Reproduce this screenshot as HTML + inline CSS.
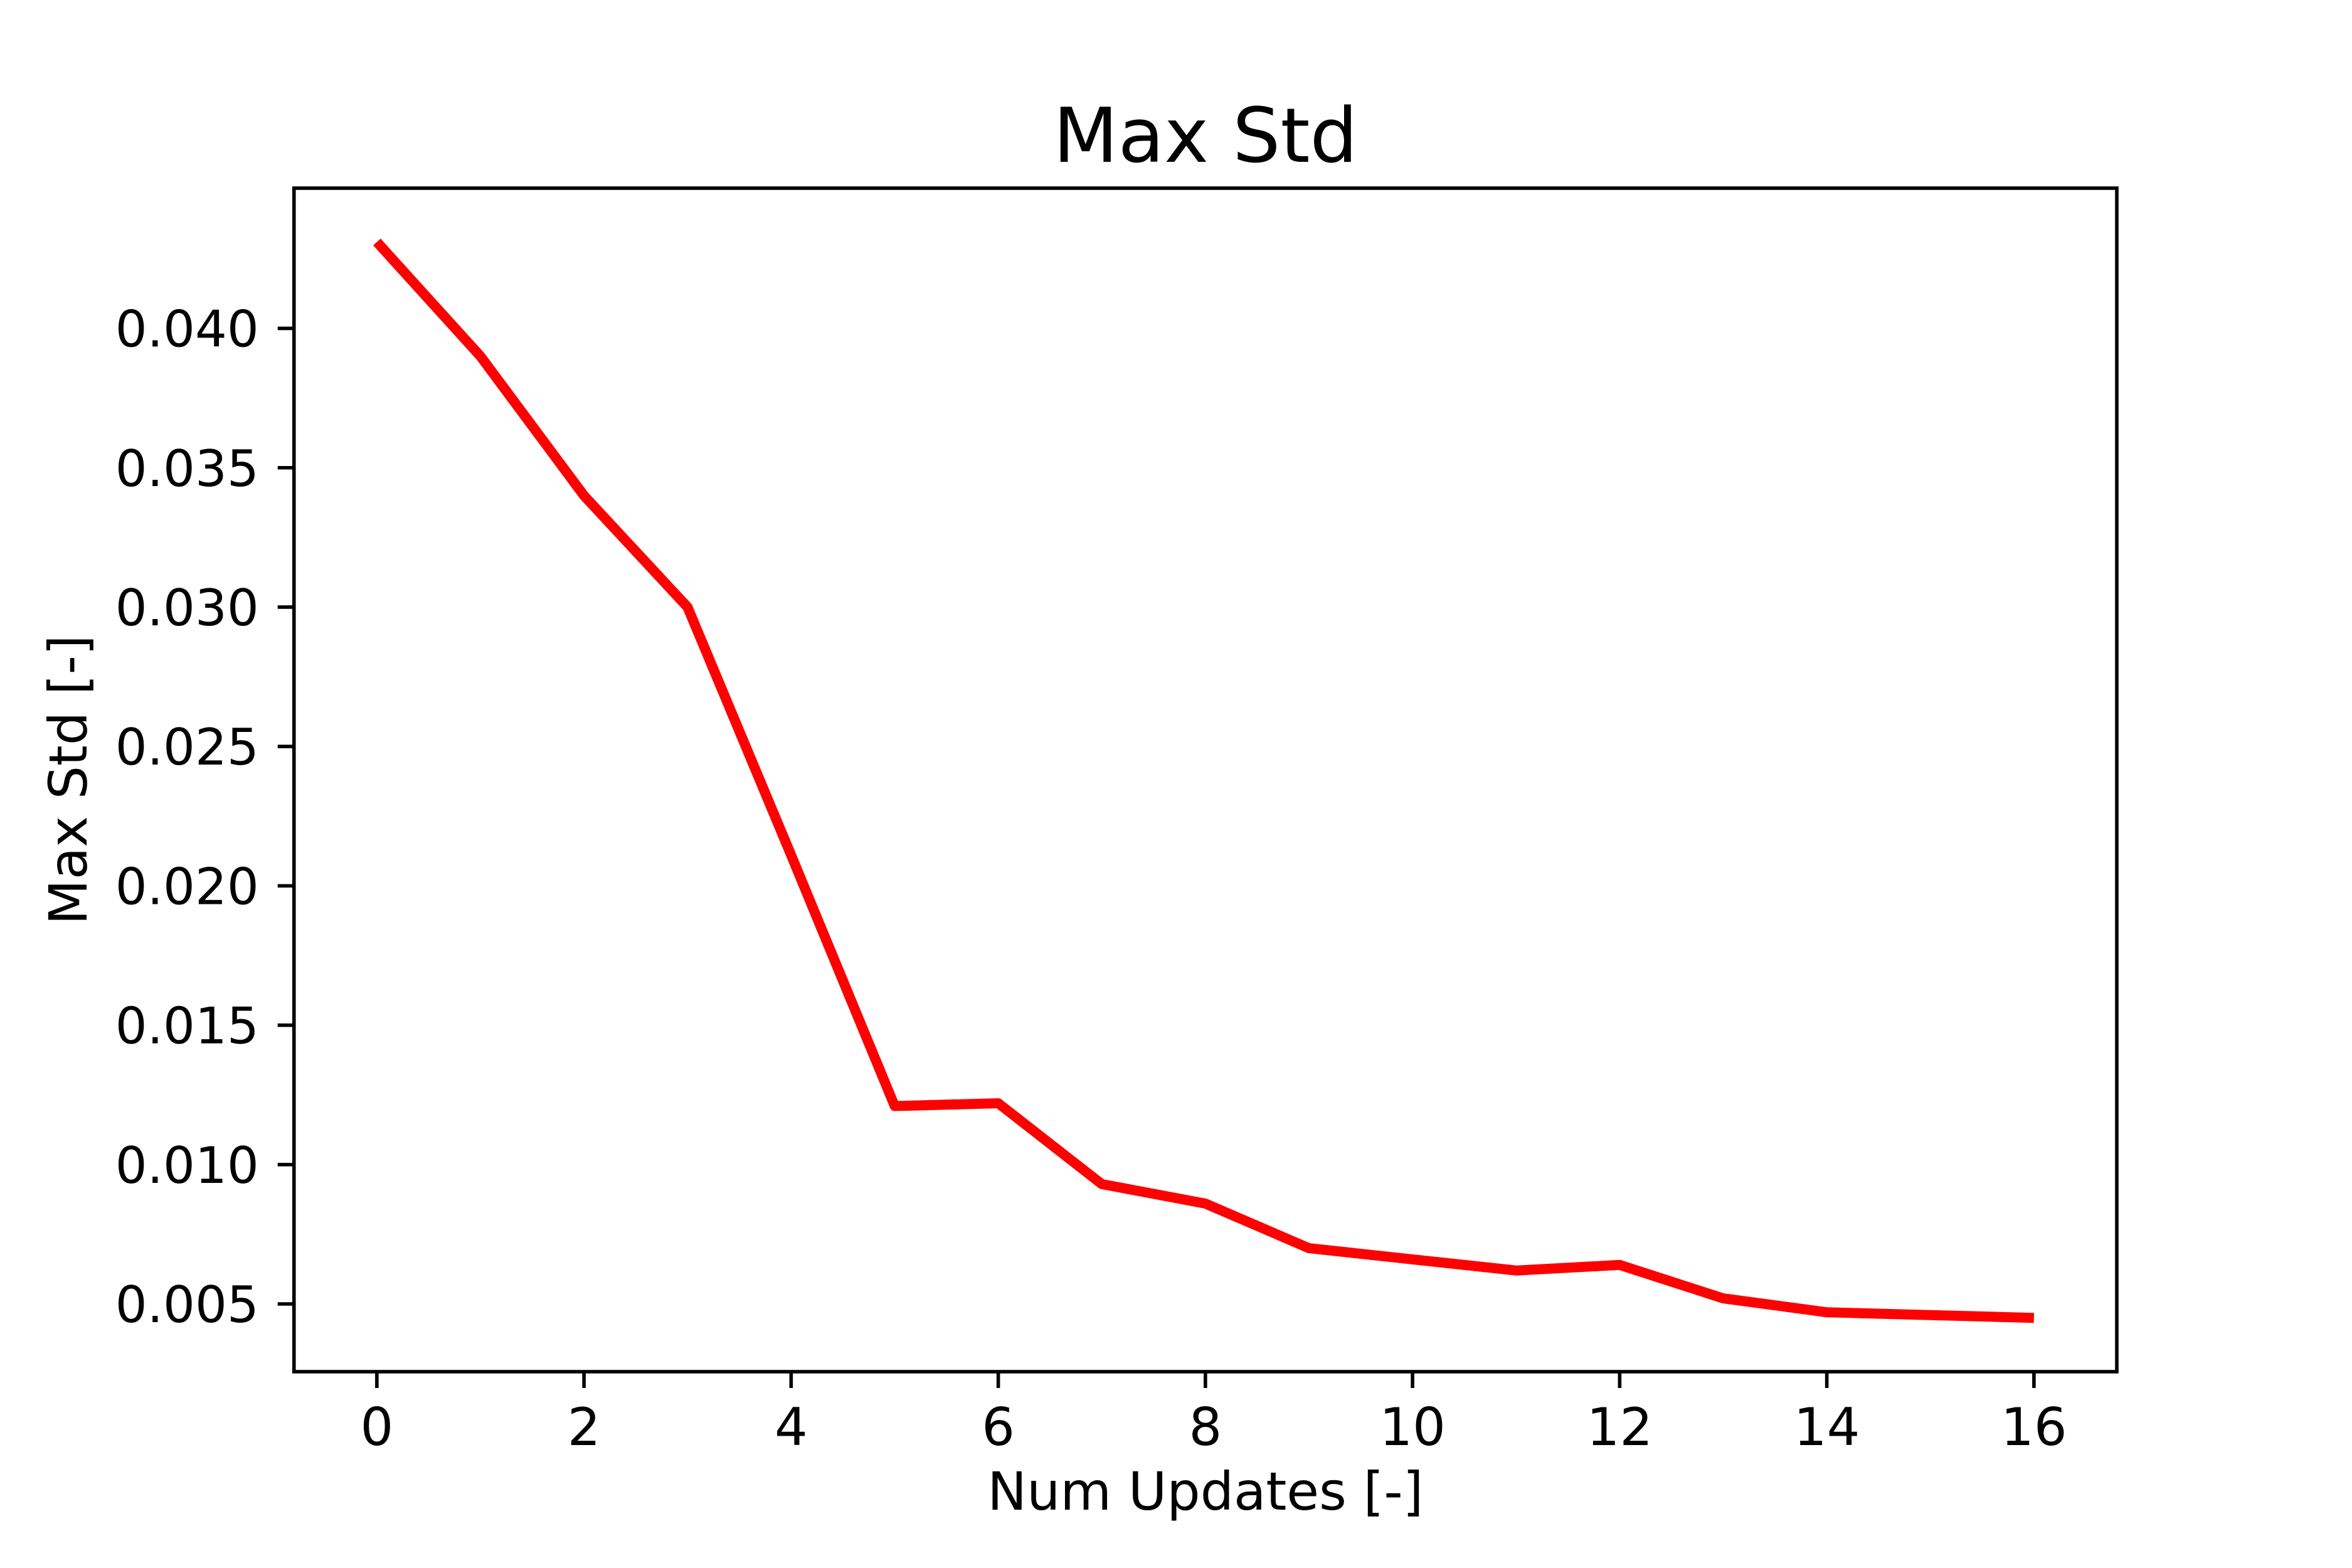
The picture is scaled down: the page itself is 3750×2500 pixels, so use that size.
<!DOCTYPE html>
<html><head><meta charset="utf-8"><style>
html,body{margin:0;padding:0;background:#fff;}
svg{display:block;}
text{font-family:"DejaVu Sans","Liberation Sans",sans-serif;fill:#000;}
</style></head><body>
<svg id="chart" width="3750" height="2500" viewBox="0 0 3750 2500" xmlns="http://www.w3.org/2000/svg">
<rect x="0" y="0" width="3750" height="2500" fill="#fff"/>
<g id="plot"></g>
</svg>
<script>
const xValues = [0,1,2,3,4,5,6,7,8,9,10,11,12,13,14,15,16];
const maxStd = [0.0431,0.0390,0.0340,0.0300,0.0211,0.0121,0.0122,0.0093,0.0086,0.0070,0.0066,0.0062,0.0064,0.0052,0.0047,0.0046,0.0045];
const xTicks = [0,2,4,6,8,10,12,14,16];
const yTicks = [0.005,0.010,0.015,0.020,0.025,0.030,0.035,0.040];
const yTickLabels = ["0.005","0.010","0.015","0.020","0.025","0.030","0.035","0.040"];

const NS = "http://www.w3.org/2000/svg";
const g = document.getElementById('plot');
const L = 468.75, R = 3375, T = 300, B = 2187;
const xmin0 = Math.min(...xValues), xmax0 = Math.max(...xValues);
const ymin0 = Math.min(...maxStd), ymax0 = Math.max(...maxStd);
const xpad = (xmax0 - xmin0) * 0.05, ypad = (ymax0 - ymin0) * 0.05;
const xmin = xmin0 - xpad, xmax = xmax0 + xpad, ymin = ymin0 - ypad, ymax = ymax0 + ypad;
function sx(v){ return L + (v - xmin) / (xmax - xmin) * (R - L); }
function sy(v){ return B - (v - ymin) / (ymax - ymin) * (B - T); }
function mk(tag, attrs){ const e = document.createElementNS(NS, tag); for (const k in attrs) e.setAttribute(k, attrs[k]); g.appendChild(e); return e; }

const pts = xValues.map((x,i)=>sx(x).toFixed(1)+','+sy(maxStd[i]).toFixed(1)).join(' ');
const line = mk('polyline', {points: pts, fill:'none', stroke:'#ff0000', 'stroke-width':16, 'stroke-linejoin':'round', 'stroke-linecap':'butt'});



const frame = mk('rect', {x:L, y:T, width:R-L, height:B-T, fill:'none', stroke:'#000', 'stroke-width':5.6});



xTicks.forEach(v=>{
  const x = sx(v);
  const t = mk('line', {x1:x, y1:B, x2:x, y2:B+26, stroke:'#000', 'stroke-width':5.6});
  
  
  const lb = mk('text', {x:x, y:B+117, 'font-size':83, 'text-anchor':'middle'});
  lb.textContent = String(v);
  
  
});
yTicks.forEach((v,i)=>{
  const y = sy(v);
  const t = mk('line', {x1:L-26, y1:y, x2:L, y2:y, stroke:'#000', 'stroke-width':5.6});
  
  
  const lb = mk('text', {x:L-56, y:y+29, 'font-size':80, 'text-anchor':'end'});
  lb.textContent = yTickLabels[i];
  
  
});
const xl = mk('text', {x:(L+R)/2, y:2407, 'font-size':84, 'text-anchor':'middle'});
xl.textContent = 'Num Updates [-]';


const yl = mk('text', {x:0, y:0, 'font-size':84, 'text-anchor':'middle', transform:'translate(138,'+((T+B)/2)+') rotate(-90)'});
yl.textContent = 'Max Std [-]';


const title = mk('text', {x:(L+R)/2, y:258, 'font-size':120, 'text-anchor':'middle'});
title.textContent = 'Max Std';


</script>
</body></html>
